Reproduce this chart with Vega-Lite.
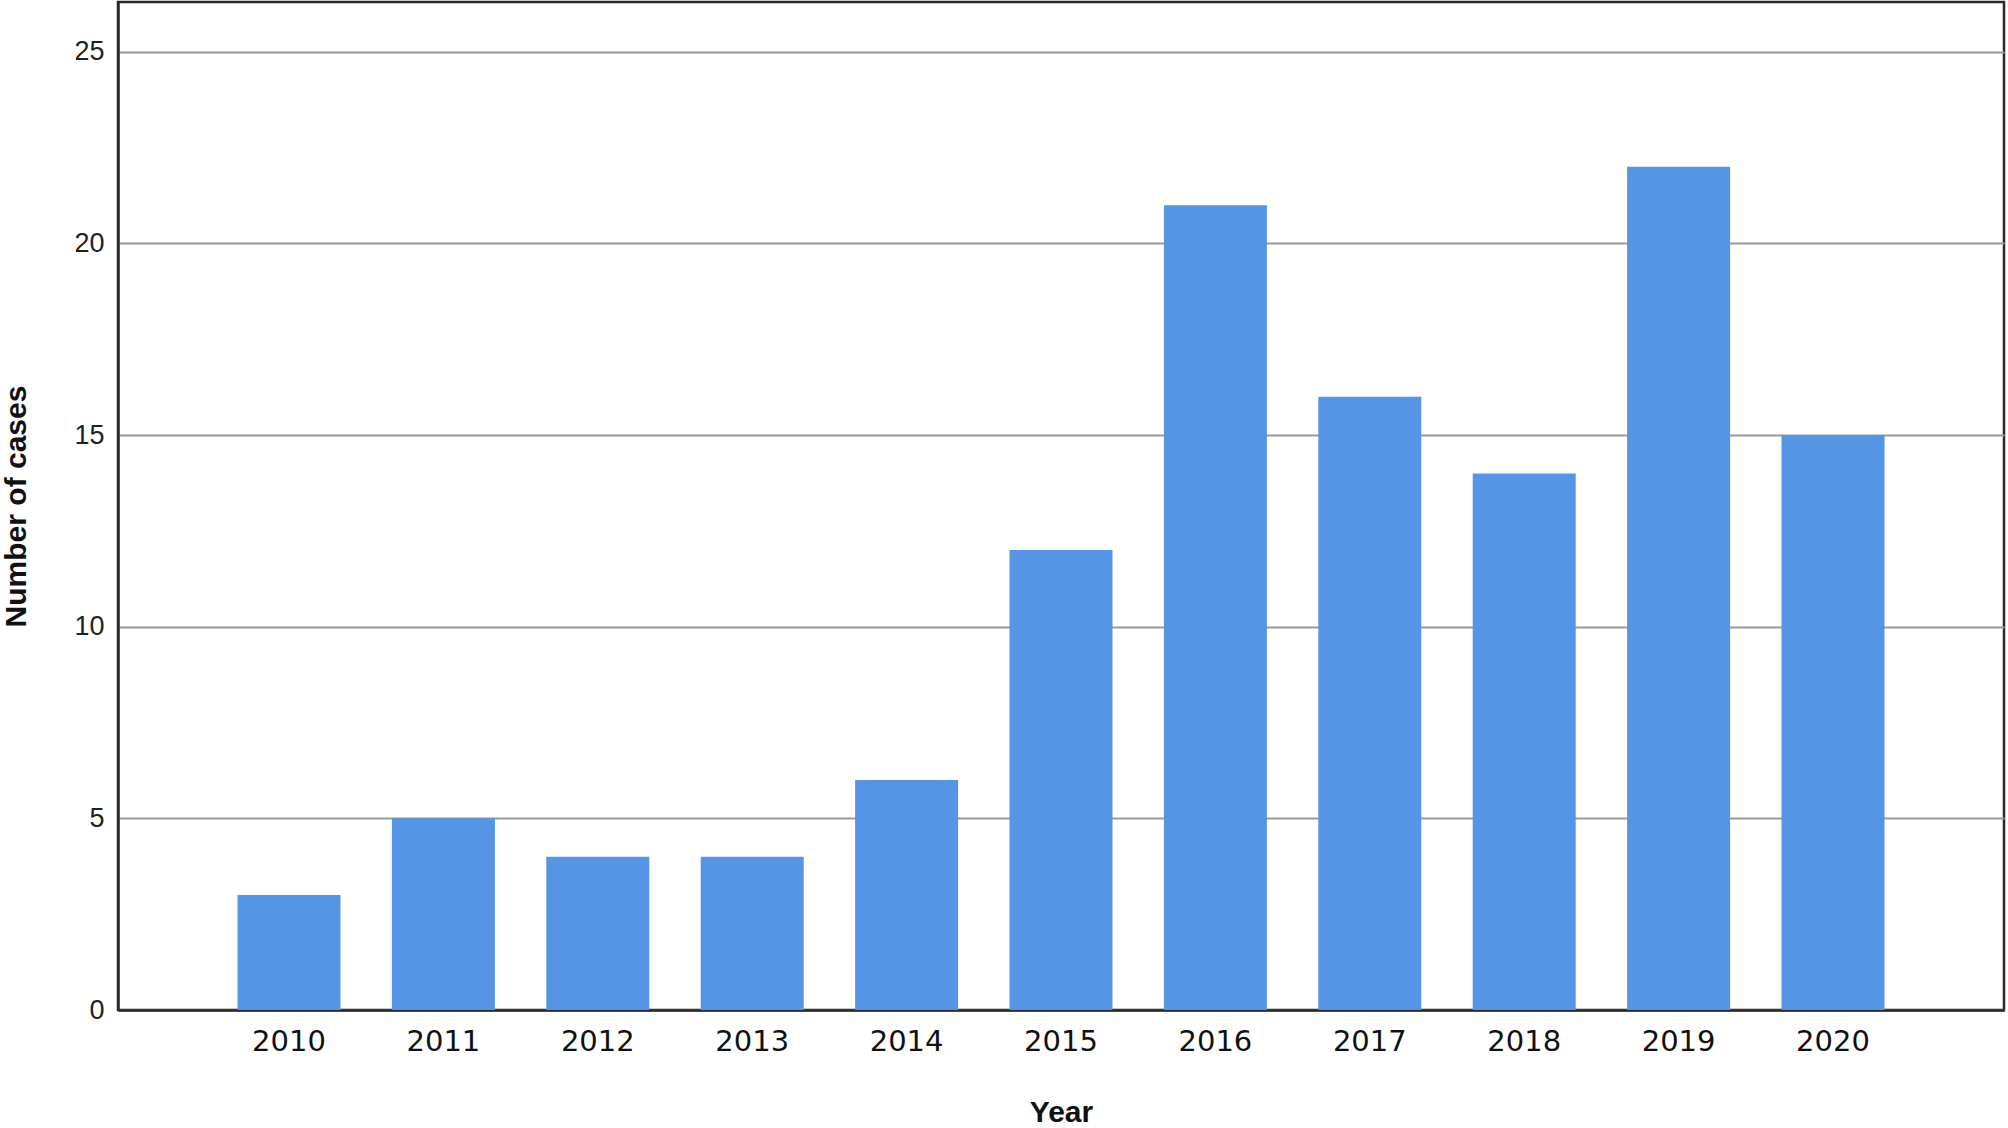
{
  "$schema": "https://vega.github.io/schema/vega-lite/v6.json",
  "width": 1886,
  "height": 1008,
  "autosize": {"type": "none"},
  "padding": {"left": 118, "top": 2, "right": 4, "bottom": 118},
  "background": "white",
  "config": {
    "view": {"stroke": "#2a2a2a", "strokeWidth": 2.5},
    "axis": {"labelFont": "Liberation Sans", "titleFont": "Liberation Sans"}
  },
  "data": {
    "values": [
      {"Year": "2010", "Cases": 3},
      {"Year": "2011", "Cases": 5},
      {"Year": "2012", "Cases": 4},
      {"Year": "2013", "Cases": 4},
      {"Year": "2014", "Cases": 6},
      {"Year": "2015", "Cases": 12},
      {"Year": "2016", "Cases": 21},
      {"Year": "2017", "Cases": 16},
      {"Year": "2018", "Cases": 14},
      {"Year": "2019", "Cases": 22},
      {"Year": "2020", "Cases": 15}
    ]
  },
  "mark": {"type": "bar", "color": "#5595E5"},
  "encoding": {
    "x": {
      "field": "Year",
      "type": "nominal",
      "sort": null,
      "scale": {"paddingInner": 0.333, "paddingOuter": 0.774},
      "axis": {
        "title": "Year",
        "labelAngle": 0,
        "labelFont": "DejaVu Sans",
        "labelFontSize": 29,
        "labelFontWeight": "normal",
        "labelColor": "#111111",
        "labelPadding": 17,
        "ticks": false,
        "domainColor": "#2a2a2a",
        "domainWidth": 2.5,
        "titleFontSize": 30,
        "titleFontWeight": "bold",
        "titleColor": "#111111",
        "titlePadding": 41
      }
    },
    "y": {
      "field": "Cases",
      "type": "quantitative",
      "scale": {"domain": [0, 26.3], "nice": false},
      "axis": {
        "title": "Number of cases",
        "values": [0, 5, 10, 15, 20, 25],
        "labelFontSize": 27,
        "labelColor": "#222222",
        "labelPadding": 14,
        "ticks": false,
        "grid": true,
        "gridColor": "#999999",
        "gridWidth": 2,
        "domainColor": "#2a2a2a",
        "domainWidth": 2.5,
        "titleFontSize": 30,
        "titleFontWeight": "bold",
        "titleColor": "#111111",
        "titlePadding": 42
      }
    }
  }
}
